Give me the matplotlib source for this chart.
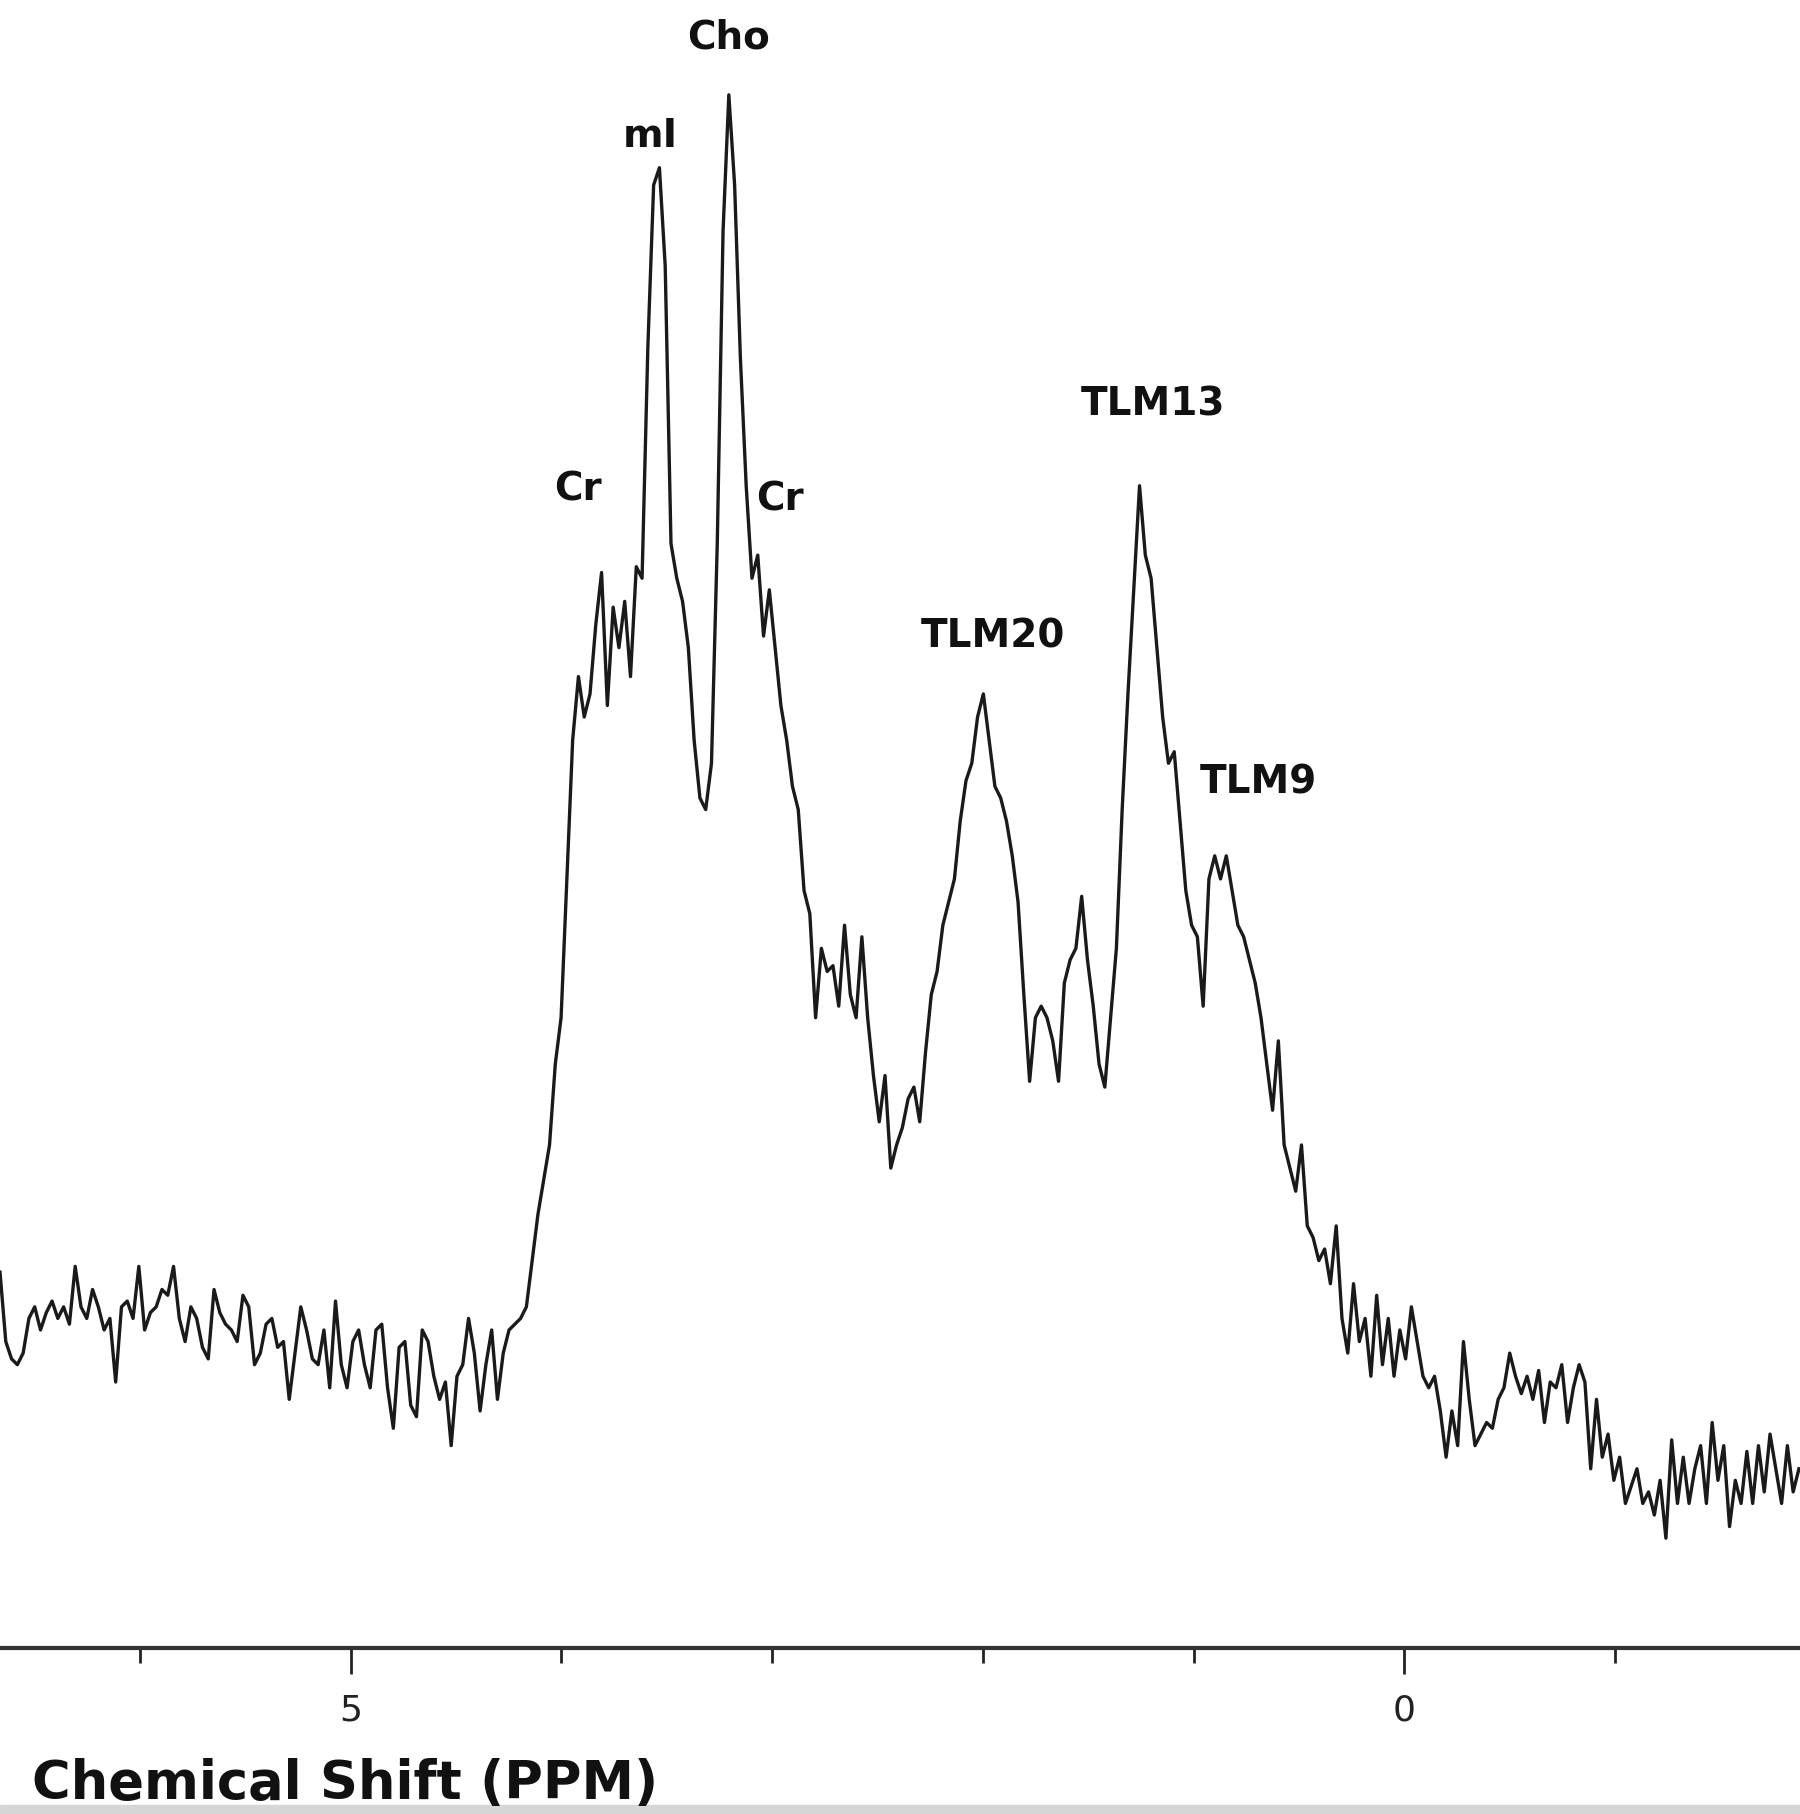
import numpy as np
import matplotlib
matplotlib.use("Agg")
import matplotlib.pyplot as plt
from matplotlib.ticker import FixedLocator

# MR spectrum, intensity in arbitrary units
intensity = [
    325, 265, 250, 245, 255, 285, 295, 275, 290, 300,
    285, 295, 280, 330, 295, 285, 310, 295, 275, 285,
    230, 295, 300, 285, 330, 275, 290, 295, 310, 305,
    330, 285, 265, 295, 285, 260, 250, 310, 290, 280,
    275, 265, 305, 295, 245, 255, 280, 285, 260, 265,
    215, 255, 295, 275, 250, 245, 275, 225, 300, 245,
    225, 265, 275, 245, 225, 275, 280, 225, 190, 260,
    265, 210, 200, 275, 265, 235, 215, 230, 175, 235,
    245, 285, 255, 205, 245, 275, 215, 255, 275, 280,
    285, 295, 335, 375, 405, 435, 505, 545, 665, 785,
    840, 805, 825, 885, 930, 815, 900, 865, 905, 840,
    935, 925, 1125, 1265, 1280, 1195, 955, 925, 905, 865,
    785, 735, 725, 765, 955, 1225, 1343, 1265, 1115, 1005,
    925, 945, 875, 915, 865, 815, 785, 745, 725, 655,
    635, 545, 605, 585, 590, 555, 625, 565, 545, 615,
    545, 495, 455, 495, 415, 435, 450, 475, 485, 455,
    515, 565, 585, 625, 645, 665, 715, 750, 765, 805,
    825, 785, 745, 735, 715, 685, 645, 565, 490, 545,
    555, 545, 525, 490, 575, 595, 605, 650, 595, 555,
    505, 485, 545, 605, 725, 825, 915, 1005, 945, 925,
    865, 805, 765, 775, 715, 655, 625, 615, 555, 665,
    685, 665, 685, 655, 625, 615, 595, 575, 545, 505,
    465, 525, 435, 415, 395, 435, 365, 355, 335, 345,
    315, 365, 285, 255, 315, 265, 285, 235, 305, 245,
    285, 235, 275, 250, 295, 265, 235, 225, 235, 205,
    165, 205, 175, 265, 215, 175, 185, 195, 190, 215,
    225, 255, 235, 220, 235, 215, 240, 195, 230, 225,
    245, 195, 225, 245, 230, 155, 215, 165, 185, 145,
    165, 125, 140, 155, 125, 135, 115, 145, 95, 180,
    125, 165, 125, 155, 175, 125, 195, 145, 175, 105,
    145, 125, 170, 125, 175, 135, 185, 155, 125, 175,
    135, 155,
]
# spectral points are evenly spaced in chemical shift
ppm = np.linspace(6.663, -1.872, len(intensity))

peak_names = ["Cho", "mI", "Cr", "Cr", "TLM20", "TLM13", "TLM9"]
peak_ppm = [3.205, 3.578, 3.919, 2.964, 1.954, 1.191, 0.692]
peak_height = [1393, 1307, 1002, 993, 875, 1075, 748]

fig = plt.figure(figsize=(18, 18.14), dpi=100)
ax = fig.add_axes([0, 0.0915, 1, 0.9085])
ax.plot(ppm, intensity, color="#1a1a1a", lw=2.4)

for name, x, y in zip(peak_names, peak_ppm, peak_height):
    ax.text(x, y, name, ha="center", va="center", fontsize=28,
            fontweight="bold", color="#111111")

ax.set_xlim(6.663, -1.877)
ax.set_ylim(0, 1425)
for s in ["top", "left", "right"]:
    ax.spines[s].set_visible(False)
ax.spines["bottom"].set_linewidth(3)
ax.spines["bottom"].set_color("#333333")
ax.set_yticks([])
ax.xaxis.set_major_locator(FixedLocator([5, 0]))
ax.xaxis.set_minor_locator(FixedLocator([6, 4, 3, 2, 1, -1]))
ax.set_xticklabels(["5", "0"])
ax.tick_params(axis="x", which="major", length=19, width=2, color="#222222",
               labelsize=26, pad=14, labelcolor="#222222")
ax.tick_params(axis="x", which="minor", length=11, width=2, color="#222222")

fig.text(0.018, 0.008, "Chemical Shift (PPM)", fontsize=38, fontweight="bold",
         ha="left", va="baseline", color="#111111")
fig.patches.append(plt.Rectangle((0, 0), 1, 0.005, transform=fig.transFigure,
                                 color="#d6d6d6", zorder=0))

fig.savefig("out.png", dpi=100)
